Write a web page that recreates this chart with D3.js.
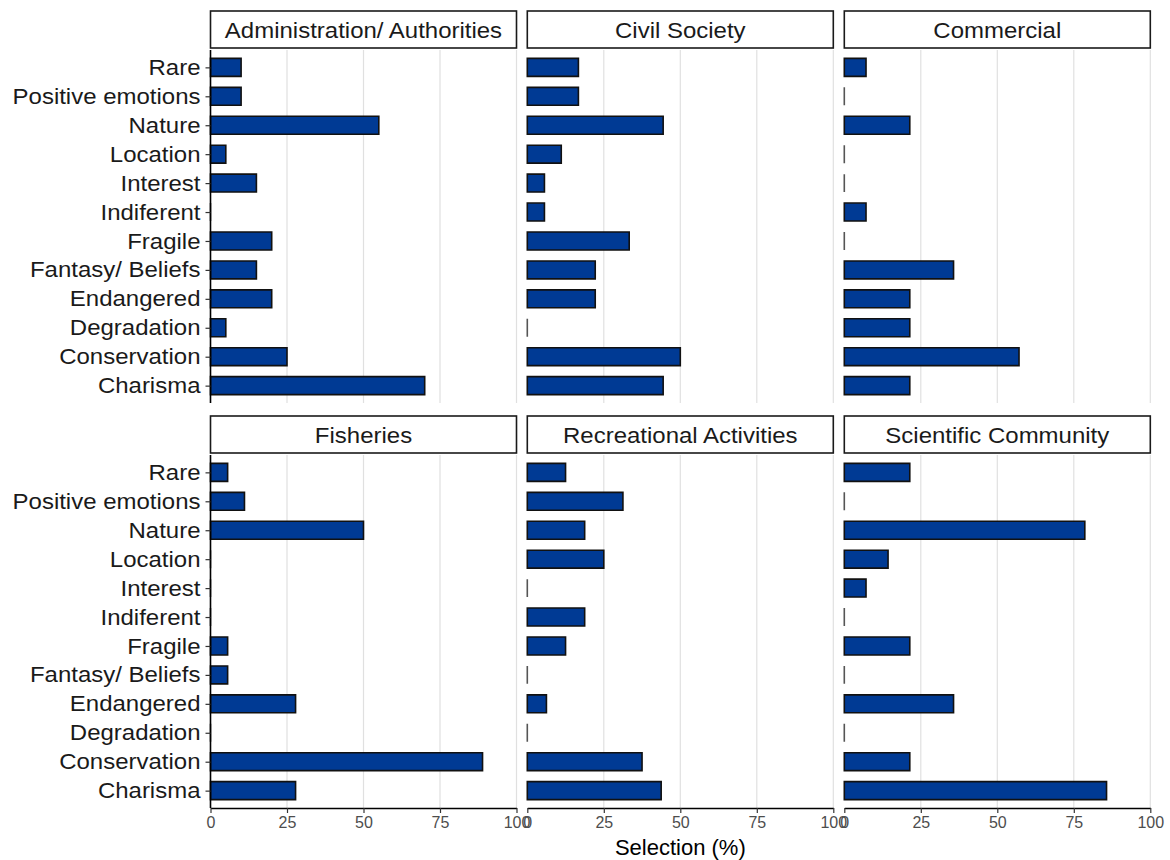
<!DOCTYPE html>
<html lang="en">
<head>
	<meta charset="UTF-8">
	<title>Selection</title>
	<style>
		body { margin: 0; background: #fff; }
		text { font-family: "Liberation Sans", Arial, sans-serif; }
	</style>
</head>
<body>
	<script src="https://cdn.jsdelivr.net/npm/d3@7"></script>
	<script type="text/javascript">
		var width = 1170;
		var height = 860;

		// categories, top to bottom
		var categories = ["Rare", "Positive emotions", "Nature", "Location", "Interest", "Indiferent",
			"Fragile", "Fantasy/ Beliefs", "Endangered", "Degradation", "Conservation", "Charisma"];
		var groups = ["Administration/ Authorities", "Civil Society", "Commercial",
			"Fisheries", "Recreational Activities", "Scientific Community"];
		var xTicks = [0, 25, 50, 75, 100];

		// selection (%) per group, same order as categories
		var administration = [10, 10, 55, 5, 15, 0, 20, 15, 20, 5, 25, 70];
		var civilSociety   = [16.7, 16.7, 44.4, 11.1, 5.6, 5.6, 33.3, 22.2, 22.2, 0, 50, 44.4];
		var commercial     = [7.1, 0, 21.4, 0, 0, 7.1, 0, 35.7, 21.4, 21.4, 57.1, 21.4];
		var fisheries      = [5.6, 11.1, 50, 0, 0, 0, 5.6, 5.6, 27.8, 0, 88.9, 27.8];
		var recreational   = [12.5, 31.25, 18.75, 25, 0, 18.75, 12.5, 0, 6.25, 0, 37.5, 43.75];
		var scientific     = [21.4, 0, 78.6, 14.3, 7.1, 0, 21.4, 0, 35.7, 0, 21.4, 85.7];
		var values = [administration, civilSociety, commercial, fisheries, recreational, scientific];

		var colX = [210.5, 527.3, 844.3];   // panel left edges
		var rowY = [50, 455];               // panel tops
		var panelW = 306, panelH = 353;
		var stripH = 37;
		var stretch = 1.09;                 // labels in the original are a little wide

		var svg = d3.select("body")
			.append("svg")
			.attr("width", width)
			.attr("height", height);

		// widen a text a bit, like the original
		function widen(sel) {
			sel.each(function () {
				var w = this.getComputedTextLength();
				d3.select(this).attr("textLength", w * stretch).attr("lengthAdjust", "spacingAndGlyphs");
			});
		}

		groups.forEach(function (g, gi) {
			var col = gi % 3, row = Math.floor(gi / 3);
			var left = colX[col], top = rowY[row];

			var x = d3.scaleLinear().domain([0, 100]).range([left, left + panelW]);
			var y = d3.scalePoint().domain(categories).range([top, top + panelH]).padding(0.6);
			var barH = y.step() * 0.62;

			var p = svg.append("g");

			// strip
			p.append("rect")
				.attr("x", left).attr("y", top - stripH - 2)
				.attr("width", panelW).attr("height", stripH)
				.attr("fill", "#fff").attr("stroke", "#1a1a1a").attr("stroke-width", 1.6);
			p.append("text")
				.attr("x", left + panelW / 2).attr("y", top - stripH / 2 - 1)
				.attr("dy", "0.36em")
				.attr("text-anchor", "middle")
				.attr("font-size", 22).attr("fill", "#1a1a1a")
				.text(g)
				.call(widen);

			// grid
			p.selectAll("line.grid")
				.data(xTicks.slice(1))
				.enter().append("line")
				.attr("class", "grid")
				.attr("x1", function (d) { return x(d); })
				.attr("x2", function (d) { return x(d); })
				.attr("y1", top).attr("y2", top + panelH)
				.attr("stroke", "#e0e0e0").attr("stroke-width", 1.2);

			// bars (paths so zero values still show a thin line)
			p.selectAll("path.bar")
				.data(values[gi])
				.enter().append("path")
				.attr("class", "bar")
				.attr("d", function (d, i) {
					var yy = y(categories[i]) - barH / 2;
					return "M" + x(0) + "," + yy + "V" + (yy + barH) + "H" + x(d) + "V" + yy + "Z";
				})
				.attr("fill", "#003a94")
				.attr("stroke", function (d) { return d === 0 ? "#555" : "#111"; })
				.attr("stroke-width", 1.6);

			// y axis on the left column
			if (col === 0) {
				var yAxis = d3.axisLeft(y).tickSize(5).tickPadding(5);
				var ya = p.append("g")
					.attr("transform", "translate(" + left + ",0)")
					.call(yAxis);
				ya.select(".domain").attr("d", "M0," + top + "V" + (top + panelH))
					.attr("stroke", "#000").attr("stroke-width", 1.6);
				ya.selectAll(".tick line").attr("stroke", "#333").attr("stroke-width", 1.2);
				ya.selectAll(".tick text")
					.attr("font-size", 22).attr("fill", "#1a1a1a")
					.attr("font-family", "Liberation Sans, Arial, sans-serif")
					.call(widen);
			}

			// x axis on the bottom row
			if (row === 1) {
				var xAxis = d3.axisBottom(x).tickValues(xTicks).tickSize(5).tickPadding(4).tickSizeOuter(0);
				var xa = p.append("g")
					.attr("transform", "translate(0," + (top + panelH) + ")")
					.call(xAxis);
				xa.select(".domain").attr("stroke", "#000").attr("stroke-width", 1.6);
				xa.selectAll(".tick line").attr("stroke", "#333").attr("stroke-width", 1.2);
				xa.selectAll(".tick text")
					.attr("font-size", 16).attr("fill", "#4d4d4d")
					.attr("font-family", "Liberation Sans, Arial, sans-serif");
			}
		});

		svg.append("text")
			.attr("x", colX[1] + panelW / 2)
			.attr("y", 855)
			.attr("text-anchor", "middle")
			.attr("font-size", 22).attr("fill", "#000")
			.text("Selection (%)");
	</script>
</body>
</html>
